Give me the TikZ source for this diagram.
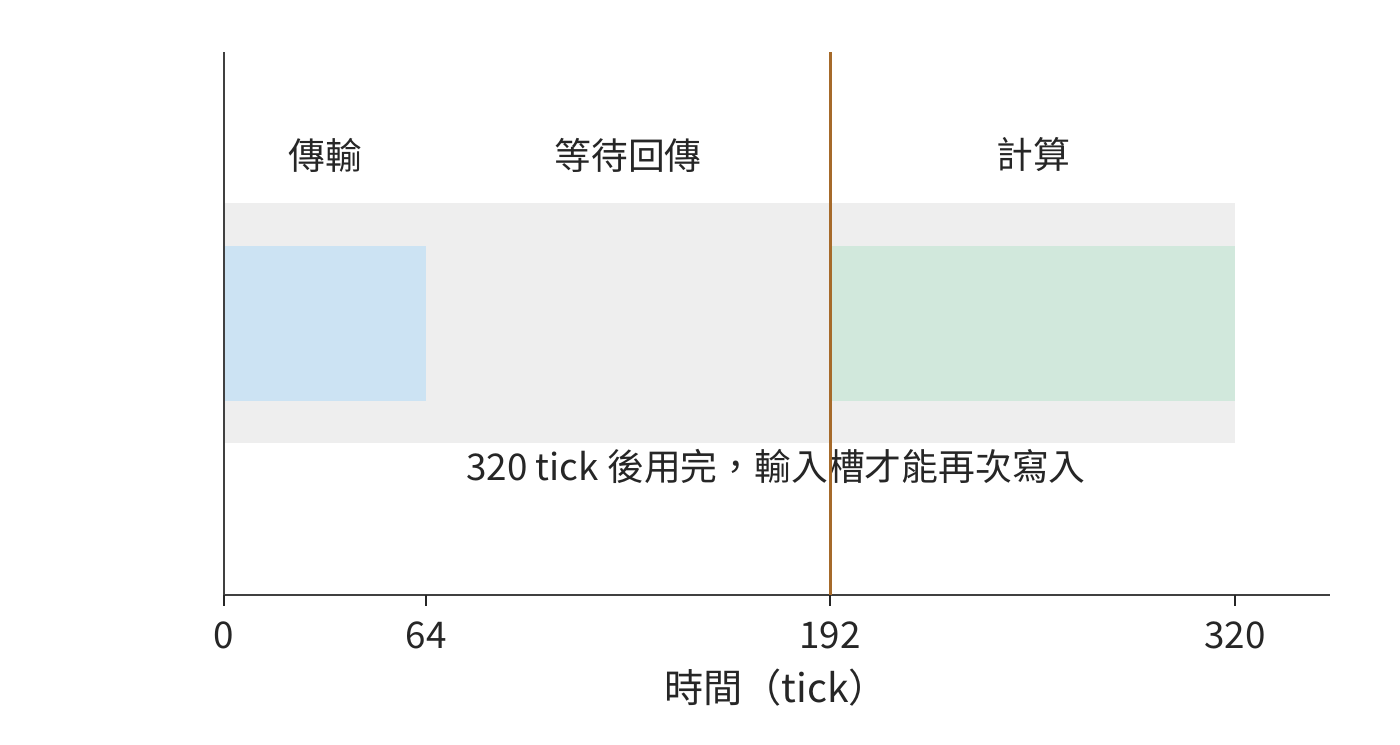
\documentclass[tikz,border=0pt]{standalone}
\usepackage{fontspec}
\setmainfont{Noto Sans CJK TC}
\definecolor{inkgray}{HTML}{262626}
\definecolor{spinegray}{HTML}{404040}
\definecolor{bandgray}{HTML}{EEEEEE}
\definecolor{sendblue}{HTML}{CCE3F3}
\definecolor{calcgreen}{HTML}{D1E8DC}
\definecolor{markbrown}{HTML}{A66A2A}
\begin{document}
\begin{tikzpicture}[x=0.5pt, y=-0.5pt, font=\fontsize{18.4}{22}\selectfont, text=inkgray]
			\useasboundingbox (0,0) rectangle (1400,744);
			% bars
			\fill[bandgray] (224,203) rectangle (1235,443);
			\fill[sendblue] (224,246) rectangle (426,401);
			\fill[calcgreen] (830,246) rectangle (1235,401);
			% phase labels
			\node (send) at (325,155) {傳輸};
			\node (wait) at (628,155) {等待回傳};
			\node (calc) at (1033,155) {計算};
			\node (note) at (776,466) {320 tick 後用完，輸入槽才能再次寫入};
			% axes
			\draw[spinegray, line width=1.25pt] (224,52) -- (224,595) -- (1330,595);
			\foreach \px/\lab in {224/0, 426/64, 830/192, 1235/320}
				\draw[inkgray, line width=1.25pt] (\px,595) -- (\px,606) node[below=4pt]{\lab};
			\node[font=\fontsize{19.6}{22}\selectfont] (xlabel) at (776,688) {時間（tick）};
			% marker
			\draw[markbrown, line width=1.5pt] (830,52) -- (830,595);
			\end{tikzpicture}
\end{document}
